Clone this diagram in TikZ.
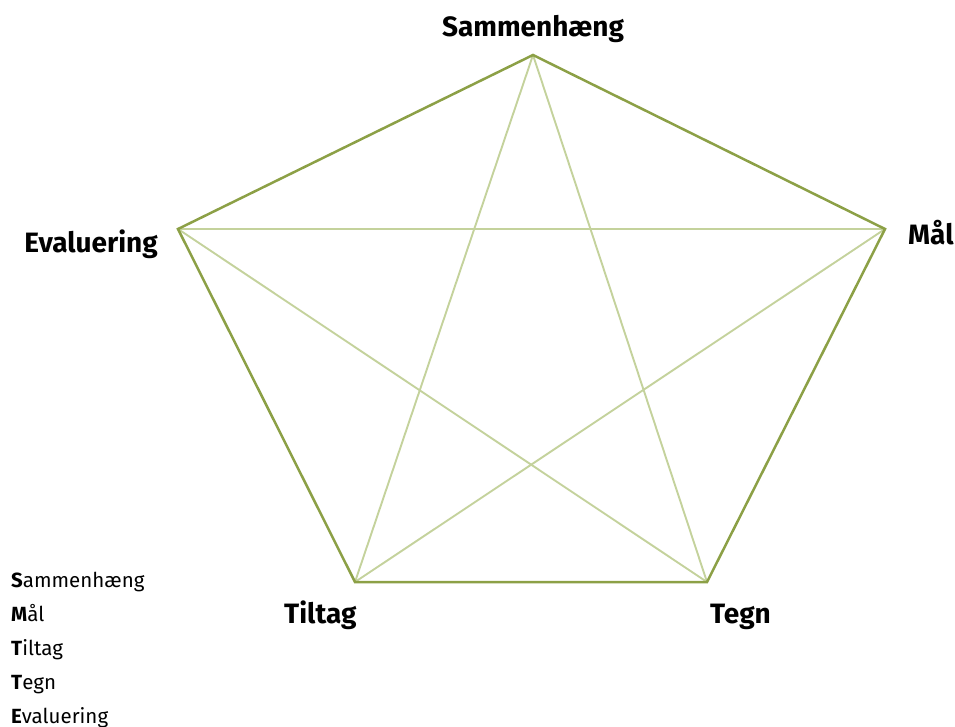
\documentclass[tikz,border=0pt]{standalone}
\usepackage{fontspec}
\setmainfont{Fira Sans}
\usepackage{tikz}
\usetikzlibrary{positioning}
\usepackage{xcolor}
\definecolor{rimgreen}{RGB}{140,160,70}
\definecolor{stargreen}{RGB}{196,210,156}

\begin{document}
\begin{tikzpicture}[x=1pt,y=-1pt,
    rim/.style={rimgreen, line width=2.5pt, line cap=round},
    star/.style={stargreen, line width=1.9pt, line cap=round},
    vlabel/.style={font=\fontsize{28}{31}\selectfont\bfseries, inner sep=0pt},
    legend/.style={anchor=base west, inner sep=0pt, font=\fontsize{20.5}{24}\selectfont},
]
    \useasboundingbox (0,0) rectangle (955,727);

    % Corners of the pentagon
    \coordinate (S)  at (533,55);
    \coordinate (M)  at (885,229);
    \coordinate (Te) at (707,582);
    \coordinate (Ti) at (355,582);
    \coordinate (E)  at (178,229);

    % Star (all diagonals)
    \draw[star] (S) -- (Ti);
    \draw[star] (S) -- (Te);
    \draw[star] (M) -- (E);
    \draw[star] (M) -- (Ti);
    \draw[star] (E) -- (Te);

    % Outer pentagon
    \draw[rim] (S) -- (M) -- (Te) -- (Ti) -- (E) -- cycle;

    % Corner labels
    \node[vlabel, anchor=base] (S-lbl) at (533,37) {Sammenhæng};
    \node[vlabel, anchor=base east] (E-lbl) at (158,252) {Evaluering};
    \node[vlabel, anchor=base west] (M-lbl) at (908,245) {Mål};
    \node[vlabel, anchor=base west] (Ti-lbl) at (284,623) {Tiltag};
    \node[vlabel, anchor=base west] (Te-lbl) at (710,623) {Tegn};

    % Legend
    \foreach \i/\txt in {0/{\textbf{S}ammenhæng},1/{\textbf{M}ål},2/{\textbf{T}iltag},3/{\textbf{T}egn},4/{\textbf{E}valuering}} {
        \node[legend] (leg-\i) at (11,587+\i*34) {\txt};
    }
\end{tikzpicture}
\end{document}
